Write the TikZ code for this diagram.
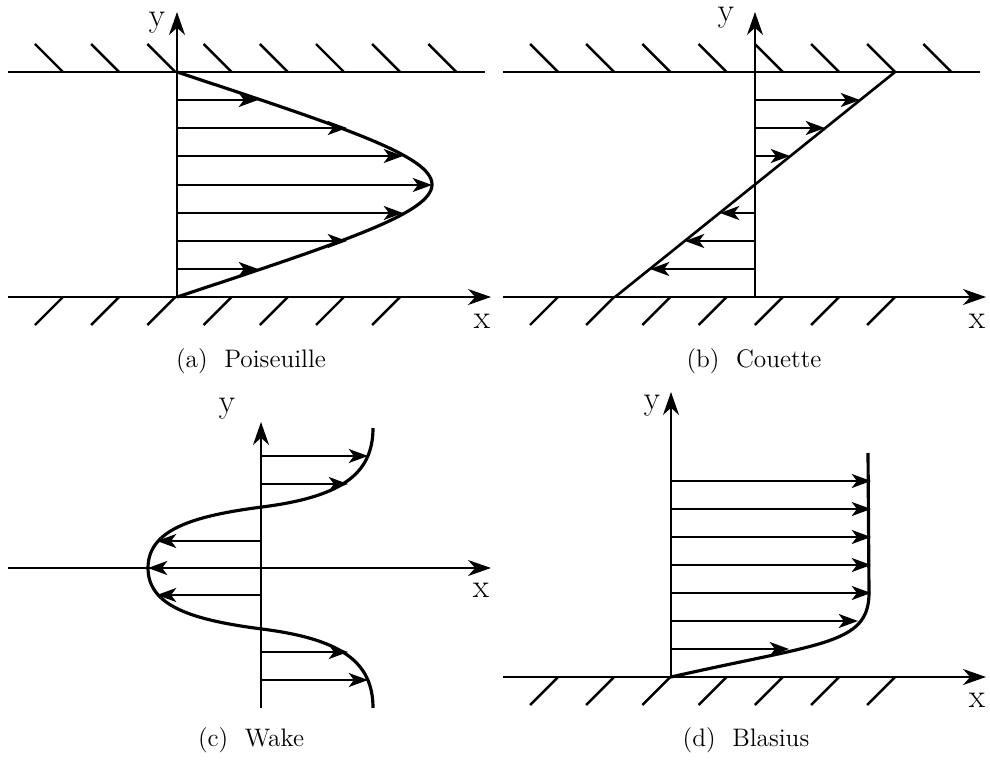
\documentclass[tikz,border=0pt]{standalone}
\usepackage{tikz}
\usetikzlibrary{arrows.meta}

\begin{document}
\begin{tikzpicture}[
    x=0.02cm, y=-0.02cm,
    wall/.style={line width=1.5pt},
    hatch/.style={line width=1.4pt},
    axis/.style={-{Stealth[length=13pt, width=9pt, inset=4pt]}, line width=1.5pt},
    vec/.style={-{Stealth[length=11pt, width=8pt, inset=3pt]}, line width=1.1pt},
    profile/.style={line width=1.8pt},
    lbl/.style={font=\fontsize{19}{23}\selectfont, inner sep=0pt},
    caption/.style={font=\Large, inner sep=0pt}
]
    \useasboundingbox (0,0) rectangle (990,760);

    % (a) Poiseuille
    \draw[wall] (8,72) -- (485,72);
    \foreach \i in {0,...,7} \draw[hatch] ({63+56.2*\i},72) -- ++(-28,-28);
    \foreach \i in {0,...,6} \draw[hatch] ({63+56.2*\i},297) -- ++(-28,28);
    \draw[axis] (8,297) -- (491,297);
    \draw[axis] (177,297) -- (177,12);
    \foreach \y/\u in {100/258, 128/347, 156/403, 185/432, 213/403, 241/347, 269/258}
        \draw[vec] (177,\y) -- (\u,\y);
    \draw[profile] (177,72) .. controls (517,184.5) .. (177,297);
    \node[lbl] (ya) at (157,23) {y};
    \node[lbl] (xa) at (482,321) {x};
    \node[caption] (capa) at (251,361) {(a)\ \ Poiseuille};

    % (b) Couette
    \draw[wall] (503,72) -- (980,72);
    \foreach \i in {0,...,7} \draw[hatch] ({558+56.2*\i},72) -- ++(-28,-28);
    \foreach \i in {0,...,6} \draw[hatch] ({558+56.2*\i},297) -- ++(-28,28);
    \draw[axis] (503,297) -- (986,297);
    \draw[axis] (755,297) -- (755,12);
    \foreach \y/\u in {100/860, 128/825, 156/790, 213/720, 241/685, 269/650}
        \draw[vec] (755,\y) -- (\u,\y);
    \draw[wall] (895,72) -- (615,297);
    \node[lbl] (yb) at (726,18) {y};
    \node[lbl] (xb) at (977,321) {x};
    \node[caption] (capb) at (754,361) {(b)\ \ Couette};

    % (c) Wake
    \draw[axis] (8,568) -- (491,568);
    \draw[axis] (261,708) -- (261,422);
    \foreach \y/\u in {456/368, 484/348, 541/157, 568/148, 595/157, 652/348, 680/368}
        \draw[vec] (261,\y) -- (\u,\y);
    \draw[profile] (373,428) .. controls (373,475) and (340,497) .. (262,507)
        .. controls (192,516) and (148,530) .. (148,568)
        .. controls (148,606) and (192,620) .. (262,629)
        .. controls (340,639) and (373,661) .. (373,708);
    \node[lbl] (yc) at (227,409) {y};
    \node[lbl] (xc) at (481,590) {x};
    \node[caption] (capc) at (251,740) {(c)\ \ Wake};

    % (d) Blasius
    \foreach \i in {0,...,6} \draw[hatch] ({558+56.2*\i},677) -- ++(-28,28);
    \draw[axis] (503,677) -- (986,677);
    \draw[axis] (671,677) -- (671,392);
    \foreach \y/\u in {481/871, 509/871, 537/871, 565/871, 593/871, 621/858, 649/789}
        \draw[vec] (671,\y) -- (\u,\y);
    \draw[profile] (671,677) .. controls (820,643) and (869,645) .. (869,593) -- (868,453);
    \node[lbl] (yd) at (652,406) {y};
    \node[lbl] (xd) at (977,700) {x};
    \node[caption] (capd) at (746,740) {(d)\ \ Blasius};
\end{tikzpicture}
\end{document}
